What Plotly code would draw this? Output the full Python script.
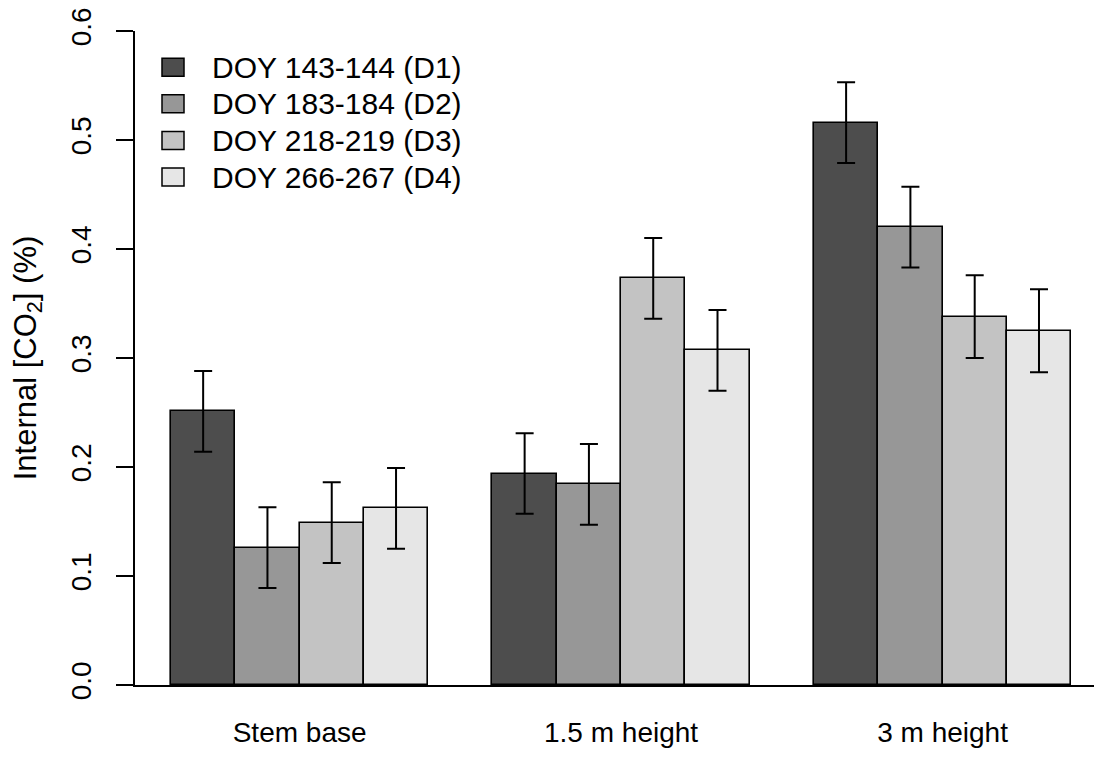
import plotly.graph_objects as go

# ---- data ----
groups = ["Stem base", "1.5 m height", "3 m height"]
series_names = ["DOY 143-144 (D1)", "DOY 183-184 (D2)", "DOY 218-219 (D3)", "DOY 266-267 (D4)"]
d1 = [0.251, 0.194, 0.516]
d2 = [0.126, 0.184, 0.420]
d3 = [0.149, 0.373, 0.338]
d4 = [0.162, 0.307, 0.325]
e1 = [0.037, 0.037, 0.037]
e2 = [0.037, 0.037, 0.037]
e3 = [0.037, 0.037, 0.038]
e4 = [0.037, 0.037, 0.038]
y_ticks = [0.0, 0.1, 0.2, 0.3, 0.4, 0.5, 0.6]
y_ticktext = ["0.0", "0.1", "0.2", "0.3", "0.4", "0.5", "0.6"]

values = [d1, d2, d3, d4]
errors = [e1, e2, e3, e4]
colors = ["#4D4D4D", "#979797", "#C3C3C3", "#E6E6E6"]

FONT = "Liberation Sans, Arial, sans-serif"
OFF = 8  # default page body margin
W, H = 1102 - OFF, 762 - OFF
ML, MR, MT, MB = 135 - OFF, 0, 31 - OFF, 77

# R barplot(beside=TRUE) layout: bar width 1, 1-unit gap before each group
group_start = [1 + 5 * g for g in range(len(groups))]
group_center = [s + 2 for s in group_start]

fig = go.Figure()
for i, (vals, errs) in enumerate(zip(values, errors)):
    xs = [s + i + 0.5 for s in group_start]
    fig.add_trace(go.Bar(
        x=xs, y=vals, width=1.0, name=series_names[i],
        marker=dict(color=colors[i], line=dict(color="black", width=1.6)),
        error_y=dict(type="data", array=errs, visible=True, color="black",
                     thickness=2, width=9),
        showlegend=False,
    ))

# manual legend (R-style); positions given in page pixels
pw = W - ML - MR
ph = H - MT - MB
def px_x(p):
    return (p - OFF - ML) / pw
def px_y(p):
    return (H - MB - (p - OFF)) / ph

row_centers = [67.2, 103.8, 140.4, 177.0]
for i, name in enumerate(series_names):
    cy = row_centers[i]
    fig.add_shape(type="rect", xref="paper", yref="paper",
                  x0=px_x(162), x1=px_x(184), y0=px_y(cy + 9), y1=px_y(cy - 9),
                  fillcolor=colors[i], line=dict(color="black", width=1.5))
    fig.add_annotation(xref="paper", yref="paper", x=px_x(210), y=px_y(cy),
                       text=name, showarrow=False, xanchor="left", yanchor="middle",
                       font=dict(family=FONT, size=30, color="black"))

fig.update_layout(
    width=W, height=H,
    margin=dict(l=ML, r=MR, t=MT, b=MB, pad=0),
    paper_bgcolor="white", plot_bgcolor="white",
    barmode="overlay", bargap=0,
    font=dict(family=FONT, color="black"),
    xaxis=dict(range=[0.44, 15.48], tickvals=group_center, ticktext=groups,
               automargin=False,
               showline=True, linecolor="black", linewidth=2,
               ticks="outside", ticklen=21, tickcolor="rgba(0,0,0,0)",
               showgrid=False, zeroline=False,
               tickfont=dict(family=FONT, size=28, color="black")),
    yaxis=dict(range=[0, 0.6], tickvals=y_ticks, ticktext=y_ticktext,
               automargin=False, ticklabeloverflow="allow",
               showline=True, linecolor="black", linewidth=2,
               ticks="outside", ticklen=17, tickwidth=1.6, tickcolor="black",
               ticklabelstandoff=14,
               tickangle=-90, showgrid=False, zeroline=False,
               tickfont=dict(family=FONT, size=28, color="black"),
               title=dict(text="Internal [CO<sub>2</sub>] (%)", standoff=23,
                          font=dict(family=FONT, size=31, color="black"))),
)

fig.write_html("out.html")
